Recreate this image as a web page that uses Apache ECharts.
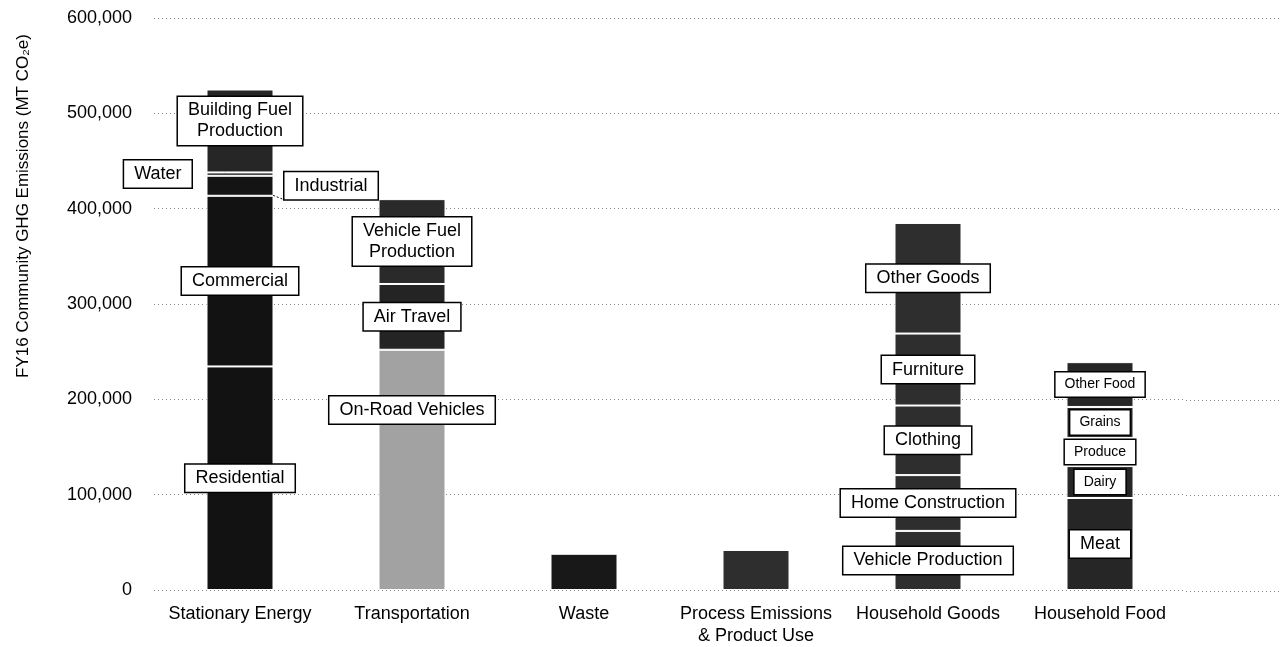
<!DOCTYPE html>
<html>
<head>
<meta charset="utf-8">
<title>FY16 Community GHG Emissions</title>
<script src="https://cdn.jsdelivr.net/npm/echarts@6/dist/echarts.min.js"></script>
<style>
  html, body { margin: 0; padding: 0; background: #fff; }
  #main { width: 1285px; height: 647px; }
</style>
</head>
<body>
<div id="main"></div>
<script>
// categories on the x axis
var categories = ['Stationary Energy', 'Transportation', 'Waste', 'Process Emissions\n& Product Use', 'Household Goods', 'Household Food'];

// segments of each bar, bottom to top (MT CO2e)
var stationaryNames = ['Residential', 'Commercial', 'Industrial', 'Water', 'Building Fuel\nProduction'];
var stationaryValues = [234500, 179000, 21000, 3500, 87000];
var transportNames = ['On-Road Vehicles', 'Air Travel', 'Vehicle Fuel\nProduction'];
var transportValues = [252000, 69000, 89000];
var wasteNames = ['Waste'];
var wasteValues = [38000];
var processNames = ['Process Emissions'];
var processValues = [42000];
var goodsNames = ['Vehicle Production', 'Home Construction', 'Clothing', 'Furniture', 'Other Goods'];
var goodsValues = [62000, 58500, 73000, 75500, 116000];
var foodNames = ['Meat', 'Dairy', 'Produce', 'Grains', 'Other Food'];
var foodValues = [96500, 33500, 29500, 32500, 47000];

// y axis ticks
var yMin = 0;
var yMax = 600000;
var yStep = 100000;

var groups = [
    { names: stationaryNames, values: stationaryValues },
    { names: transportNames, values: transportValues },
    { names: wasteNames, values: wasteValues },
    { names: processNames, values: processValues },
    { names: goodsNames, values: goodsValues },
    { names: foodNames, values: foodValues }
];

// look of the bars
var barColors = {
    'Residential': '#121212',
    'Commercial': '#121212',
    'Industrial': '#141414',
    'Water': '#181818',
    'Building Fuel\nProduction': '#262626',
    'On-Road Vehicles': '#a2a2a2',
    'Air Travel': '#242424',
    'Vehicle Fuel\nProduction': '#2a2a2a',
    'Waste': '#181818',
    'Process Emissions': '#2e2e2e'
};
var goodsColor = '#2e2e2e';
var foodColor = '#262626';

// label placement tweaks
var labelTweaks = {
    'Building Fuel\nProduction': { offset: [0, -10] },
    'Water': { position: 'left', distance: 15, line: true },
    'Industrial': { position: 'right', distance: 11, line: true },
    'On-Road Vehicles': { offset: [0, -60] },
    'Dairy': { small: true },
    'Produce': { small: true },
    'Grains': { small: true },
    'Other Food': { small: true }
};
var noLabel = ['Waste', 'Process Emissions'];

var fontName = '"Liberation Sans", Arial, sans-serif';
var gridLine = { lineStyle: { color: '#8a8a8a', width: 1, type: [1, 3] } };

var series = [];
groups.forEach(function (g, ci) {
    g.names.forEach(function (name, si) {
        var tw = labelTweaks[name] || {};
        var color = barColors[name] || (ci === 4 ? goodsColor : foodColor);
        var data = categories.map(function (c, k) {
            return k === ci ? g.values[si] : '-';
        });
        series.push({
            name: name,
            type: 'bar',
            stack: 'total',
            barWidth: 67,
            data: data,
            itemStyle: { color: color, borderColor: '#fff', borderWidth: 1 },
            label: {
                show: noLabel.indexOf(name) < 0,
                position: tw.position || 'inside',
                distance: tw.distance || 5,
                offset: tw.offset || [0, 0],
                formatter: '{a}',
                color: '#000',
                fontFamily: fontName,
                fontSize: tw.small ? 14 : 18,
                lineHeight: tw.small ? 16 : 21,
                backgroundColor: '#fff',
                borderColor: '#000',
                borderWidth: 1.5,
                padding: tw.small ? [4, 9] : [3, 10]
            },
            labelLine: {
                show: !!tw.line,
                lineStyle: { color: '#000', width: 1, type: [2, 2] }
            }
        });
    });
});

var myChart = echarts.init(document.getElementById('main'));

var option = {
    animation: false,
    backgroundColor: '#fff',
    // main grid: 6 bands of 172px; the small second grid only carries the gridlines on to the right edge
    grid: [
        { left: 154, right: 99, top: 18, bottom: 56 },
        { left: 1186, right: 5, top: 18, bottom: 56 }
    ],
    xAxis: [{
        type: 'category',
        data: categories,
        axisLine: { show: false },
        axisTick: { show: false },
        axisLabel: {
            margin: 13,
            interval: 0,
            color: '#000',
            fontFamily: fontName,
            fontSize: 18,
            lineHeight: 22
        }
    }, {
        gridIndex: 1,
        type: 'category',
        data: [''],
        axisLine: { show: false },
        axisTick: { show: false },
        axisLabel: { show: false }
    }],
    yAxis: [{
        type: 'value',
        min: yMin,
        max: yMax,
        interval: yStep,
        name: 'FY16 Community GHG Emissions (MT CO₂e)',
        nameLocation: 'middle',
        nameGap: 122,
        nameTextStyle: {
            color: '#000',
            fontFamily: fontName,
            fontSize: 17,
            padding: [0, 0, 0, 196]
        },
        axisLine: { show: false },
        axisTick: { show: false },
        axisLabel: {
            margin: 22,
            color: '#000',
            fontFamily: fontName,
            fontSize: 18,
            formatter: function (v) { return v.toLocaleString('en-US'); }
        },
        splitLine: gridLine
    }, {
        gridIndex: 1,
        type: 'value',
        min: yMin,
        max: yMax,
        interval: yStep,
        axisLine: { show: false },
        axisTick: { show: false },
        axisLabel: { show: false },
        splitLine: gridLine
    }],
    series: series
};

myChart.setOption(option);
</script>
</body>
</html>
